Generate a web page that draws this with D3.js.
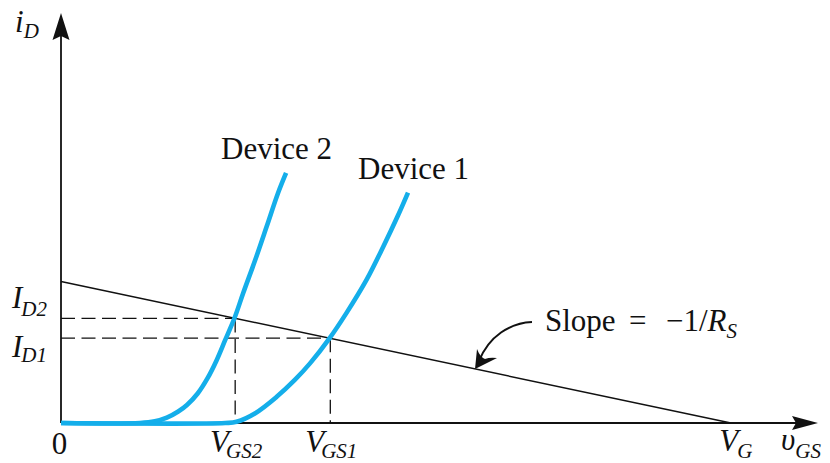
<!DOCTYPE html>
<html>
<head>
<meta charset="utf-8">
<script src="https://cdn.jsdelivr.net/npm/d3@7/dist/d3.min.js"></script>
<style>
  html, body { margin: 0; padding: 0; background: #fff; }
  svg { display: block; }
  text { font-family: "Liberation Serif", "Times New Roman", serif; fill: #111; }
</style>
</head>
<body>
<svg id="chart" width="830" height="463"></svg>
<script>
// Gate voltage and source resistance of the bias network (arbitrary units)
const VG = 10;
const RS = 2.9;

// Axis extents
const xMax = 11.3;
const yMax = 10;

// Bias line end points: (0, VG/RS) and (VG, 0)
const loadV = [0, VG];
const loadI = [3.45, 0];

// Operating points where each device meets the bias line
const qNames = ["2", "1"];
const qV = [2.60, 4.02];   // V_GS2, V_GS1
const qI = [2.55, 2.07];   // I_D2,  I_D1

// Transfer characteristics i_D(v_GS)
const dev2V = [0, 1.18, 1.40, 1.58, 1.75, 1.88, 2.04, 2.19, 2.32, 2.45, 2.59, 2.72, 2.90, 3.07, 3.24, 3.36];
const dev2I = [0, 0,    0.04, 0.13, 0.28, 0.44, 0.72, 1.10, 1.52, 2.02, 2.56, 3.17, 3.98, 4.79, 5.61, 6.10];
const dev1V = [0, 2.45, 2.62, 2.90, 3.22, 3.49, 3.72, 4.01, 4.26, 4.56, 4.81, 5.03, 5.18];
const dev1I = [0, 0,    0.03, 0.24, 0.64, 1.05, 1.46, 2.07, 2.68, 3.49, 4.30, 5.06, 5.62];

// Device labels
const devNames = ["Device 2", "Device 1"];

const svg = d3.select("#chart");
const x = d3.scaleLinear().domain([0, xMax]).range([61, 818]);
const y = d3.scaleLinear().domain([0, yMax]).range([423, 13]);

const BLUE = "#14aeea";
const INK = "#111";

// ---- axes (no ticks, arrowheads at the ends) ----
const arrowLen = 26, arrowHalf = 8;
svg.append("g")
  .attr("transform", `translate(0,${y(0)})`)
  .call(d3.axisBottom(x).tickValues([]).tickSizeOuter(0))
  .call(g => g.select(".domain").attr("stroke", INK).attr("stroke-width", 1.8)
    .attr("d", `M${x(0)},0H${x(xMax) - arrowLen + 4}`));
svg.append("g")
  .attr("transform", `translate(${x(0)},0)`)
  .call(d3.axisLeft(y).tickValues([]).tickSizeOuter(0))
  .call(g => g.select(".domain").attr("stroke", INK).attr("stroke-width", 1.8)
    .attr("d", `M0,${y(0)}V${y(yMax) + arrowLen - 4}`));

// x arrowhead
{
  const tx = x(xMax), ty = y(0);
  svg.append("path")
    .attr("d", `M${tx},${ty}L${tx - arrowLen},${ty - arrowHalf + 1}L${tx - arrowLen + 4},${ty}L${tx - arrowLen},${ty + arrowHalf - 1}Z`)
    .attr("fill", INK);
}
// y arrowhead
{
  const tx = x(0), ty = y(yMax);
  svg.append("path")
    .attr("d", `M${tx},${ty}L${tx - arrowHalf - 0.5},${ty + arrowLen + 1}L${tx},${ty + arrowLen - 3}L${tx + arrowHalf + 0.5},${ty + arrowLen + 1}Z`)
    .attr("fill", INK);
}

// ---- dashed projection lines ----
const dash = "14,6.5";
qV.forEach((v, k) => {
  svg.append("line")
    .attr("x1", x(0)).attr("y1", y(qI[k]))
    .attr("x2", x(v)).attr("y2", y(qI[k]))
    .attr("stroke", INK).attr("stroke-width", 1.3).attr("stroke-dasharray", dash);
  svg.append("line")
    .attr("x1", x(v)).attr("y1", y(qI[k]))
    .attr("x2", x(v)).attr("y2", y(0))
    .attr("stroke", INK).attr("stroke-width", 1.3).attr("stroke-dasharray", dash);
});

// ---- bias line ----
svg.append("path")
  .datum(loadV.map((v, k) => [v, loadI[k]]))
  .attr("d", d3.line().x(d => x(d[0])).y(d => y(d[1])))
  .attr("fill", "none").attr("stroke", INK).attr("stroke-width", 1.5);

// ---- device curves ----
const curve = d3.line().x(d => x(d[0])).y(d => y(d[1])).curve(d3.curveCatmullRom.alpha(0.5));
[[dev1V, dev1I], [dev2V, dev2I]].forEach(([vs, is]) => {
  svg.append("path")
    .datum(vs.map((v, k) => [v, is[k]]))
    .attr("d", curve)
    .attr("fill", "none").attr("stroke", BLUE).attr("stroke-width", 4.6)
    .attr("stroke-linecap", "butt").attr("stroke-linejoin", "round");
});

// ---- text helpers ----
const FS = 31, SUB = 21;
function mathLabel(px, py, main, sub, opts = {}) {
  const t = svg.append("text")
    .attr("x", px).attr("y", py)
    .attr("text-anchor", opts.anchor || "start")
    .attr("font-size", FS);
  t.append("tspan").attr("font-style", "italic").text(main);
  if (sub) {
    t.append("tspan").attr("font-style", "italic").attr("font-size", SUB)
      .attr("dx", opts.subDx || 0).attr("dy", opts.subDy || 7).text(sub);
  }
  return t;
}

// axis titles
mathLabel(15, 32, "i", "D", { subDx: 0, subDy: 6 });
mathLabel(781, 450, "υ", "GS", { subDx: 0, subDy: 8 });

// x-axis labels
svg.append("text").attr("x", x(0) - 1.5).attr("y", 454)
  .attr("text-anchor", "middle").attr("font-size", FS).text("0");
qV.forEach((v, k) => {
  mathLabel(x(v) + 1, 452, "V", "GS" + qNames[k], { anchor: "middle", subDx: -3, subDy: 6 });
});
mathLabel(x(VG) + 5, 451, "V", "G", { anchor: "middle", subDx: -1, subDy: 7 });

// y-axis labels
mathLabel(12, y(qI[0]) - 10, "I", "D" + qNames[0], { subDx: -1, subDy: 8 });
mathLabel(12, y(qI[1]) + 19, "I", "D" + qNames[1], { subDx: -1, subDy: 5 });

// device labels near the top of each curve
svg.append("text").attr("x", x(dev2V[dev2V.length - 1]) - 65).attr("y", 159)
  .attr("font-size", FS).text(devNames[0]);
svg.append("text").attr("x", x(dev1V[dev1V.length - 1]) - 50).attr("y", 179)
  .attr("font-size", FS).text(devNames[1]);

// ---- slope annotation ----
const tipV = 6.18;
const tipX = x(tipV), tipY = y((VG - tipV) / RS);
svg.append("path")
  .attr("d", `M${tipX + 57},${tipY - 47} C${tipX + 35},${tipY - 46} ${tipX + 14},${tipY - 33} ${tipX + 4},${tipY - 8}`)
  .attr("fill", "none").attr("stroke", INK).attr("stroke-width", 2);
svg.append("path")
  .attr("d", `M${tipX},${tipY} L${tipX + 2},${tipY - 20} Q${tipX + 5},${tipY - 12} ${tipX + 10},${tipY - 10} Q${tipX + 15},${tipY - 12} ${tipX + 22},${tipY - 11} Z`)
  .attr("fill", INK);

// "Slope = −1/R_S" with math spacing around the operators
const slope = svg.append("text").attr("y", 331).attr("font-size", FS);
slope.append("tspan").attr("x", 545).text("Slope");
slope.append("tspan").attr("x", 629).text("=");
slope.append("tspan").attr("x", 666).text("−1/");
slope.append("tspan").attr("font-style", "italic").text("R");
slope.append("tspan").attr("font-style", "italic").attr("font-size", SUB).attr("dx", 0).attr("dy", 7).text("S");
</script>
</body>
</html>
